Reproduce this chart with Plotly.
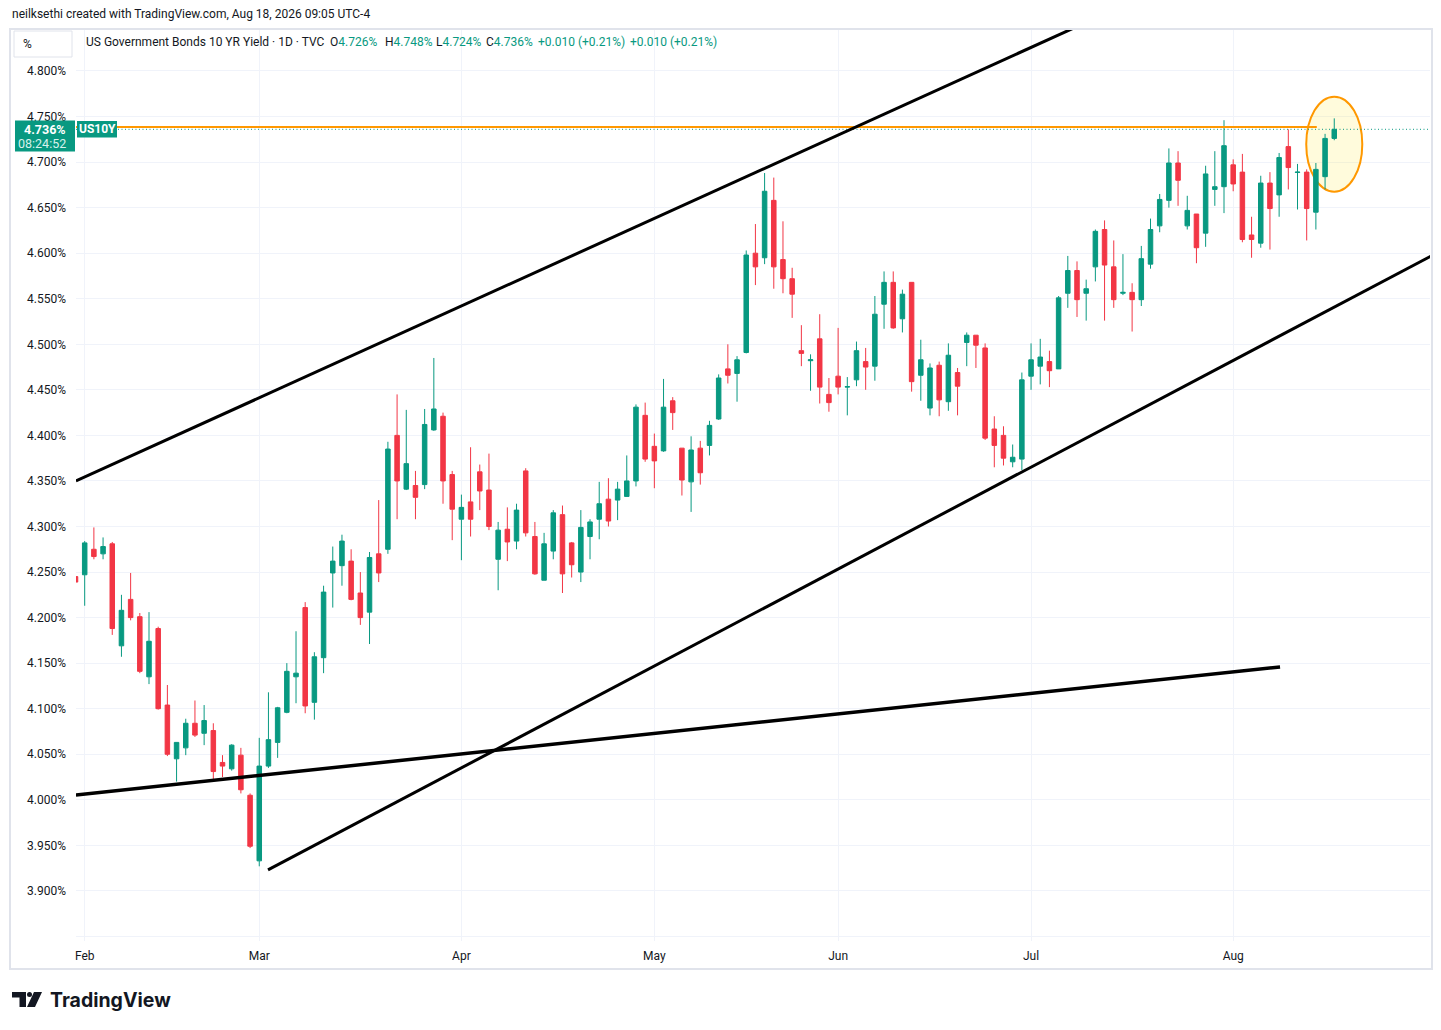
import plotly.graph_objects as go

# ---------------- data ----------------
dates = [
    "2026-01-30",
    "2026-02-02", "2026-02-03", "2026-02-04", "2026-02-05", "2026-02-06",
    "2026-02-09", "2026-02-10", "2026-02-11", "2026-02-12", "2026-02-13",
    "2026-02-17", "2026-02-18", "2026-02-19", "2026-02-20",
    "2026-02-23", "2026-02-24", "2026-02-25", "2026-02-26", "2026-02-27",
    "2026-03-02", "2026-03-03", "2026-03-04", "2026-03-05", "2026-03-06",
    "2026-03-09", "2026-03-10", "2026-03-11", "2026-03-12", "2026-03-13",
    "2026-03-16", "2026-03-17", "2026-03-18", "2026-03-19", "2026-03-20",
    "2026-03-23", "2026-03-24", "2026-03-25", "2026-03-26", "2026-03-27",
    "2026-03-30", "2026-03-31",
    "2026-04-01", "2026-04-02",
    "2026-04-06", "2026-04-07", "2026-04-08", "2026-04-09", "2026-04-10",
    "2026-04-13", "2026-04-14", "2026-04-15", "2026-04-16", "2026-04-17",
    "2026-04-20", "2026-04-21", "2026-04-22", "2026-04-23", "2026-04-24",
    "2026-04-27", "2026-04-28", "2026-04-29", "2026-04-30",
    "2026-05-01",
    "2026-05-04", "2026-05-05", "2026-05-06", "2026-05-07", "2026-05-08",
    "2026-05-11", "2026-05-12", "2026-05-13", "2026-05-14", "2026-05-15",
    "2026-05-18", "2026-05-19", "2026-05-20", "2026-05-21", "2026-05-22",
    "2026-05-26", "2026-05-27", "2026-05-28", "2026-05-29",
    "2026-06-01", "2026-06-02", "2026-06-03", "2026-06-04", "2026-06-05",
    "2026-06-08", "2026-06-09", "2026-06-10", "2026-06-11", "2026-06-12",
    "2026-06-15", "2026-06-16", "2026-06-17", "2026-06-18",
    "2026-06-22", "2026-06-23", "2026-06-24", "2026-06-25", "2026-06-26",
    "2026-06-29", "2026-06-30",
    "2026-07-01", "2026-07-02",
    "2026-07-06", "2026-07-07", "2026-07-08", "2026-07-09", "2026-07-10",
    "2026-07-13", "2026-07-14", "2026-07-15", "2026-07-16", "2026-07-17",
    "2026-07-20", "2026-07-21", "2026-07-22", "2026-07-23", "2026-07-24",
    "2026-07-27", "2026-07-28", "2026-07-29", "2026-07-30", "2026-07-31",
    "2026-08-03", "2026-08-04", "2026-08-05", "2026-08-06", "2026-08-07",
    "2026-08-10", "2026-08-11", "2026-08-12", "2026-08-13", "2026-08-14",
    "2026-08-17", "2026-08-18",
]

open_ = [
    4.245,
    4.247, 4.275, 4.270, 4.281, 4.169, 4.220, 4.201, 4.135, 4.188, 4.104,
    4.045, 4.057, 4.084, 4.073, 4.076, 4.041, 4.034, 4.049, 4.005,
    3.933, 4.037, 4.063, 4.096, 4.135, 4.211, 4.107, 4.156, 4.249, 4.257,
    4.262, 4.227, 4.206, 4.270, 4.275, 4.400, 4.341, 4.345, 4.346, 4.406,
    4.421, 4.357,
    4.308, 4.327, 4.360, 4.340, 4.264, 4.297, 4.284, 4.361, 4.289, 4.241,
    4.273, 4.313, 4.282, 4.250, 4.289, 4.308, 4.330, 4.329, 4.333, 4.350,
    4.422,
    4.388, 4.383, 4.438, 4.386, 4.349, 4.386, 4.389, 4.418, 4.473, 4.468,
    4.491, 4.600, 4.595, 4.658, 4.593, 4.572, 4.493, 4.482, 4.506, 4.445,
    4.465, 4.453, 4.461, 4.481, 4.476, 4.544, 4.568, 4.528, 4.568, 4.466,
    4.430, 4.477, 4.437, 4.469, 4.502, 4.510, 4.496, 4.407, 4.400, 4.371,
    4.374,
    4.465, 4.476, 4.481, 4.473, 4.556, 4.581, 4.556, 4.585, 4.626, 4.585,
    4.556, 4.557, 4.549, 4.588, 4.630, 4.658, 4.699, 4.630, 4.643, 4.622,
    4.670, 4.673,
    4.697, 4.689, 4.620, 4.611, 4.677, 4.664, 4.717, 4.6886, 4.689, 4.645,
    4.684, 4.726,
]

high = [
    4.246,
    4.284, 4.299, 4.288, 4.283, 4.225, 4.249, 4.205, 4.206, 4.190, 4.126,
    4.063, 4.089, 4.109, 4.104, 4.084, 4.049, 4.061, 4.057, 4.007,
    4.068, 4.118, 4.102, 4.150, 4.185, 4.217, 4.162, 4.235, 4.278, 4.291,
    4.275, 4.250, 4.272, 4.329, 4.393, 4.445, 4.428, 4.361, 4.429, 4.485,
    4.425, 4.361,
    4.335, 4.387, 4.368, 4.380, 4.305, 4.321, 4.325, 4.364, 4.305, 4.293,
    4.318, 4.323, 4.283, 4.318, 4.308, 4.349, 4.353, 4.349, 4.378, 4.434,
    4.436,
    4.402, 4.462, 4.442, 4.386, 4.399, 4.394, 4.416, 4.467, 4.500, 4.487,
    4.603, 4.632, 4.688, 4.683, 4.635, 4.584, 4.521, 4.489, 4.533, 4.463,
    4.518, 4.464, 4.503, 4.496, 4.553, 4.580, 4.580, 4.560, 4.568, 4.505,
    4.479, 4.481, 4.501, 4.474, 4.513, 4.510, 4.501, 4.421, 4.410, 4.390,
    4.469,
    4.501, 4.506, 4.493, 4.553, 4.597, 4.591, 4.571, 4.626, 4.636, 4.614,
    4.599, 4.567, 4.608, 4.638, 4.665, 4.715, 4.712, 4.663, 4.643, 4.696,
    4.712, 4.746,
    4.703, 4.709, 4.640, 4.685, 4.689, 4.710, 4.736, 4.698, 4.692, 4.699,
    4.731, 4.748,
]

low = [
    4.238,
    4.213, 4.264, 4.264, 4.181, 4.157, 4.197, 4.139, 4.127, 4.099, 4.048,
    4.020, 4.049, 4.069, 4.060, 4.020, 4.025, 4.032, 4.007, 3.947,
    3.927, 4.035, 4.046, 4.095, 4.106, 4.095, 4.088, 4.139, 4.211, 4.235,
    4.219, 4.192, 4.171, 4.239, 4.270, 4.308, 4.340, 4.308, 4.341, 4.405,
    4.325, 4.285,
    4.263, 4.289, 4.318, 4.296, 4.230, 4.262, 4.275, 4.289, 4.247, 4.241,
    4.264, 4.227, 4.244, 4.239, 4.264, 4.286, 4.300, 4.307, 4.333, 4.344,
    4.371,
    4.342, 4.382, 4.406, 4.334, 4.316, 4.346, 4.378, 4.417, 4.457, 4.437,
    4.490, 4.565, 4.588, 4.561, 4.556, 4.529, 4.476, 4.449, 4.435, 4.426,
    4.445, 4.422, 4.454, 4.450, 4.460, 4.517, 4.517, 4.513, 4.448, 4.438,
    4.422, 4.421, 4.427, 4.422, 4.476, 4.474, 4.395, 4.365, 4.367, 4.365,
    4.362,
    4.450, 4.456, 4.453, 4.473, 4.540, 4.530, 4.526, 4.569, 4.526, 4.540,
    4.554, 4.514, 4.542, 4.583, 4.623, 4.650, 4.652, 4.626, 4.589, 4.607,
    4.652, 4.644,
    4.668, 4.612, 4.595, 4.606, 4.604, 4.640, 4.670, 4.648, 4.614, 4.626,
    4.670, 4.724,
]

close = [
    4.239,
    4.282, 4.267, 4.278, 4.188, 4.208, 4.200, 4.141, 4.174, 4.100, 4.050,
    4.063, 4.084, 4.071, 4.087, 4.031, 4.037, 4.060, 4.011, 3.949,
    4.037, 4.066, 4.101, 4.141, 4.139, 4.103, 4.157, 4.228, 4.262, 4.284,
    4.220, 4.200, 4.266, 4.249, 4.385, 4.350, 4.369, 4.332, 4.412, 4.429,
    4.350, 4.319,
    4.321, 4.308, 4.339, 4.300, 4.296, 4.283, 4.318, 4.293, 4.248, 4.281,
    4.315, 4.248, 4.258, 4.299, 4.305, 4.325, 4.306, 4.341, 4.350, 4.431,
    4.374,
    4.372, 4.431, 4.425, 4.351, 4.384, 4.359, 4.411, 4.463, 4.466, 4.483,
    4.598, 4.585, 4.668, 4.585, 4.572, 4.555, 4.490, 4.483, 4.453, 4.436,
    4.453, 4.4535, 4.493, 4.475, 4.533, 4.568, 4.518, 4.555, 4.459, 4.483,
    4.474, 4.439, 4.488, 4.454, 4.510, 4.499, 4.397, 4.389, 4.375, 4.376,
    4.461,
    4.483, 4.486, 4.471, 4.551, 4.581, 4.549, 4.561, 4.624, 4.587, 4.549,
    4.557, 4.549, 4.594, 4.626, 4.659, 4.699, 4.680, 4.647, 4.606, 4.687,
    4.673, 4.718,
    4.676, 4.615, 4.615, 4.677, 4.649, 4.705, 4.694, 4.689, 4.649, 4.692,
    4.726, 4.736,
]

month_names = ["Feb", "Mar", "Apr", "May", "Jun", "Jul", "Aug"]
y_tick_vals = [3.85, 3.90, 3.95, 4.00, 4.05, 4.10, 4.15, 4.20, 4.25, 4.30,
               4.35, 4.40, 4.45, 4.50, 4.55, 4.60, 4.65, 4.70, 4.75, 4.80]
y_tick_text = ["", "3.900%", "3.950%", "4.000%", "4.050%", "4.100%", "4.150%",
               "4.200%", "4.250%", "4.300%", "4.350%", "4.400%", "4.450%",
               "4.500%", "4.550%", "4.600%", "4.650%", "4.700%", "4.750%",
               "4.800%"]

# drawn trend lines (bar index, yield %)
upper_channel_x = [0.05, 112.0]
upper_channel_y = [4.350, 4.8625]
lower_channel_x = [20.95, 150.0]
lower_channel_y = [3.923, 4.610]
support_line_x = [0.05, 131.1]
support_line_y = [4.0053, 4.1458]
resistance_x = [0.05, 135.1]
resistance_y = [4.7385, 4.7385]
last_price = 4.736
highlight_x = [133.95, 140.05]
highlight_y = [4.6675, 4.7718]

# ---------------- figure ----------------
W, H = 1441, 1030
PL, PR, PT, PB = 76, 1430, 30, 941
X_RANGE = [0.054, 147.42]
Y_RANGE = [3.845, 4.845]


def px(x):
    return (x - PL) / (PR - PL)


def py(y):
    return (PB - y) / (PB - PT)


GREEN = "#089981"
RED = "#F23645"
TXT = "#131722"
FONT = "Roboto"

idx = list(range(len(dates)))
month_idx = []
seen = set()
for i, d in enumerate(dates):
    m = d[:7]
    if m not in seen:
        seen.add(m)
        if i > 0:
            month_idx.append(i)

fig = go.Figure()

fig.add_trace(go.Candlestick(
    x=idx, open=open_, high=high, low=low, close=close,
    increasing=dict(line=dict(color=GREEN, width=1), fillcolor=GREEN),
    decreasing=dict(line=dict(color=RED, width=1), fillcolor=RED),
    whiskerwidth=0, hoverinfo="skip", showlegend=False,
))

# price line (dotted) and drawn lines
fig.add_trace(go.Scatter(x=[X_RANGE[0], X_RANGE[1]], y=[last_price, last_price],
                         mode="lines", line=dict(color=GREEN, width=1, dash="1px,2.5px"),
                         hoverinfo="skip", showlegend=False))
fig.add_trace(go.Scatter(x=resistance_x, y=resistance_y, mode="lines",
                         line=dict(color="#FF9800", width=2),
                         hoverinfo="skip", showlegend=False))
for lx, ly, lw in [(upper_channel_x, upper_channel_y, 3),
                   (lower_channel_x, lower_channel_y, 3),
                   (support_line_x, support_line_y, 3.5)]:
    fig.add_trace(go.Scatter(x=lx, y=ly, mode="lines",
                             line=dict(color="#000000", width=lw),
                             hoverinfo="skip", showlegend=False))

shapes = []
# highlight ellipse
shapes.append(dict(type="circle", xref="x", yref="y",
                   x0=highlight_x[0], x1=highlight_x[1],
                   y0=highlight_y[0], y1=highlight_y[1],
                   fillcolor="rgba(255,235,59,0.18)",
                   line=dict(color="#FF9800", width=2), layer="between"))
# outer frame
shapes.append(dict(type="rect", xref="paper", yref="paper",
                   x0=px(10), x1=px(1432), y0=py(969), y1=py(29),
                   line=dict(color="#E0E3EB", width=2), layer="below"))
# "%" box
shapes.append(dict(type="rect", xref="paper", yref="paper",
                   x0=px(14), x1=px(72), y0=py(57), y1=py(31),
                   fillcolor="white", line=dict(color="#E0E3EB", width=1),
                   layer="above"))
# last price label boxes
shapes.append(dict(type="rect", xref="paper", yref="paper",
                   x0=px(15), x1=px(75), y0=py(151.5), y1=py(120.5),
                   fillcolor=GREEN, line=dict(width=0), layer="above"))
shapes.append(dict(type="rect", xref="paper", yref="paper",
                   x0=px(77), x1=px(117), y0=py(137.5), y1=py(121),
                   fillcolor=GREEN, line=dict(width=0), layer="above"))


# TradingView logo glyph
def ppath(points):
    s = "M " + " L ".join(f"{px(a):.5f},{py(b):.5f}" for a, b in points) + " Z"
    return s


shapes.append(dict(type="path", xref="paper", yref="paper",
                   path=ppath([(12, 992), (26, 992), (26, 1007), (19.5, 1007),
                               (19.5, 997.5), (12, 997.5)]),
                   fillcolor=TXT, line=dict(width=0), layer="above"))
shapes.append(dict(type="circle", xref="paper", yref="paper",
                   x0=px(27), x1=px(32), y0=py(997), y1=py(992),
                   fillcolor=TXT, line=dict(width=0), layer="above"))
shapes.append(dict(type="path", xref="paper", yref="paper",
                   path=ppath([(34, 992), (42, 992), (35, 1007), (27, 1007)]),
                   fillcolor=TXT, line=dict(width=0), layer="above"))

annotations = []


def note(text, x, y, size=12, color=TXT, xanchor="left", bold=False, family=FONT):
    annotations.append(dict(text=("<b>%s</b>" % text) if bold else text,
                            x=px(x), y=py(y), xref="paper", yref="paper",
                            xanchor=xanchor, yanchor="middle", showarrow=False,
                            font=dict(family=family, size=size, color=color)))


note("neilksethi created with TradingView.com, Aug 18, 2026 09:05 UTC-4", 10, 14)
note("%", 21, 44, size=12)
note("US Government Bonds 10 YR Yield · 1D · TVC", 84, 42)
g = GREEN
note(f'O<span style="color:{g}">4.726%</span>', 328, 42)
note(f'H<span style="color:{g}">4.748%</span>', 383, 42)
note(f'L<span style="color:{g}">4.724%</span>', 434, 42)
note(f'C<span style="color:{g}">4.736%</span>', 484, 42)
note("+0.010 (+0.21%)", 536, 42, color=g)
note("+0.010 (+0.21%)", 628, 42, color=g)
note("4.736%", 68, 129.5, size=12.5, color="white", xanchor="right", bold=True)
note("08:24:52", 68, 143.5, size=12.5, color="#D8F2EC", xanchor="right")
note("US10Y", 97, 129.5, size=12, color="white", xanchor="center", bold=True)
note("TradingView", 48, 1000, size=19.5, color=TXT, bold=True, family="Inter")

fig.update_layout(
    width=W, height=H, autosize=False,
    margin=dict(l=PL, r=W - PR, t=PT, b=H - PB, pad=0),
    paper_bgcolor="white", plot_bgcolor="white",
    showlegend=False, hovermode=False,
    shapes=shapes, annotations=annotations,
    font=dict(family=FONT, size=12, color=TXT),
    xaxis=dict(range=X_RANGE, rangeslider=dict(visible=False),
               tickmode="array", tickvals=month_idx, ticktext=month_names,
               showgrid=True, gridcolor="#F0F3FA", gridwidth=1,
               zeroline=False, showline=False, ticks="outside", ticklen=4,
               tickcolor="rgba(0,0,0,0)", tickfont=dict(size=12, color=TXT),
               fixedrange=True),
    yaxis=dict(range=Y_RANGE, side="left",
               tickmode="array", tickvals=y_tick_vals, ticktext=y_tick_text,
               showgrid=True, gridcolor="#F0F3FA", gridwidth=1,
               zeroline=False, showline=False, ticks="",
               ticklabelstandoff=9, tickfont=dict(size=12, color=TXT),
               fixedrange=True),
)

fig.write_html("out.html", config=dict(displayModeBar=False, staticPlot=True),
               post_script="document.body.style.margin='0';")
